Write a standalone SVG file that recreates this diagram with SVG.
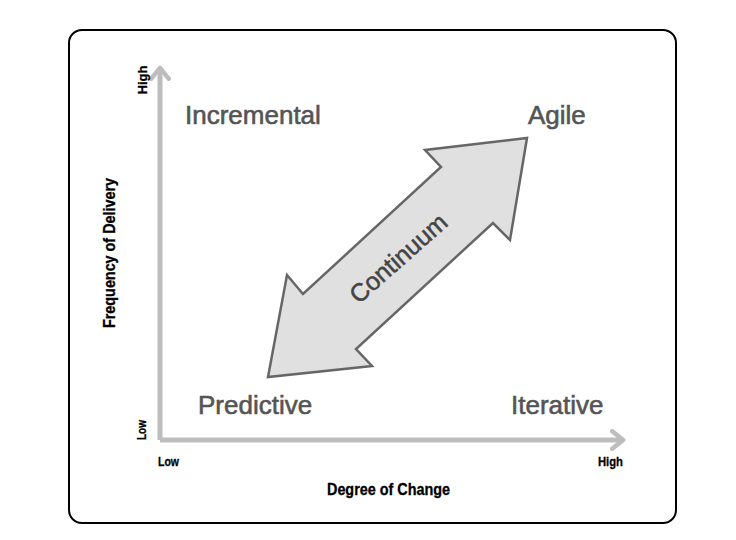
<svg xmlns="http://www.w3.org/2000/svg" width="736" height="540" viewBox="0 0 736 540">
<style>
.quad{font-family:"Liberation Sans",Arial,sans-serif;font-size:26px;fill:#555555;stroke:#555555;stroke-width:0.6}
.lbl{font-family:"Liberation Sans Narrow","Liberation Sans",Arial,sans-serif;font-weight:bold;fill:#000;stroke:#000;stroke-width:0.3}
.axis{stroke:#bdbdbd;stroke-width:5;fill:none}
</style>
<defs>
<marker id="ah" viewBox="0 0 10 10" refX="5" refY="5" markerWidth="4.4" markerHeight="4.4" orient="auto" markerUnits="strokeWidth">
<path d="M1,1 L6,5 L1,9" fill="none" stroke="#bdbdbd" stroke-width="2" stroke-linecap="round" stroke-linejoin="round"/>
</marker>
</defs>
<rect id="frame" x="69" y="30" width="607" height="493" rx="13" fill="#fff" stroke="#000" stroke-width="2"/>
<g id="connectors">
<path class="axis" d="M160,440 L160,70" marker-end="url(#ah)"/>
<path class="axis" d="M160,440 L621,440" marker-end="url(#ah)"/>
</g>
<g id="continuum">
<polygon points="527,138 510,240 493,223 356,349 372,366 268,377 287,275 303,294 441,167 425,150" fill="#e0e0e0" stroke="#666" stroke-width="2.5" stroke-linejoin="miter"/>
<text x="398" y="267" transform="rotate(-41.5 398 258)" text-anchor="middle" font-family="Liberation Sans,Arial,sans-serif" font-size="25" fill="#444" stroke="#444" stroke-width="0.5">Continuum</text>
</g>
<g id="incremental"><text class="quad" x="185" y="124">Incremental</text></g>
<g id="agile"><text class="quad" x="528" y="124">Agile</text></g>
<g id="predictive"><text class="quad" x="198" y="414">Predictive</text></g>
<g id="iterative"><text class="quad" x="511" y="414">Iterative</text></g>
<g id="y-axis-labels">
<text class="lbl" font-size="13" transform="translate(147,80) rotate(-90)" text-anchor="middle" textLength="29" lengthAdjust="spacingAndGlyphs">High</text>
<text class="lbl" font-size="13" transform="translate(146,430) rotate(-90)" text-anchor="middle" textLength="20" lengthAdjust="spacingAndGlyphs">Low</text>
<text class="lbl" font-size="16" transform="translate(115,253) rotate(-90)" text-anchor="middle" textLength="150" lengthAdjust="spacingAndGlyphs">Frequency of Delivery</text>
</g>
<g id="x-axis-labels">
<text class="lbl" font-size="13" x="158" y="466" textLength="21" lengthAdjust="spacingAndGlyphs">Low</text>
<text class="lbl" font-size="13" x="598" y="466" textLength="25" lengthAdjust="spacingAndGlyphs">High</text>
<text class="lbl" font-size="16" x="388.5" y="495" text-anchor="middle" textLength="123" lengthAdjust="spacingAndGlyphs">Degree of Change</text>
</g>
</svg>
